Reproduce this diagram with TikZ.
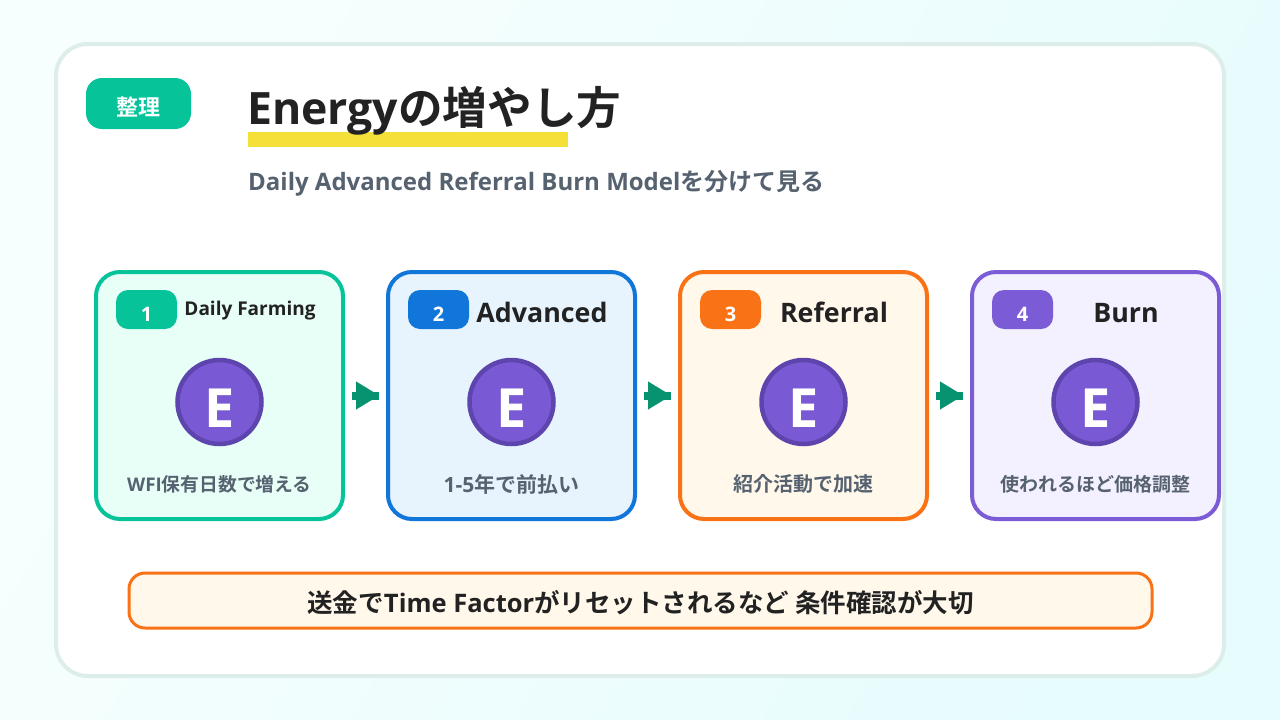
\documentclass[tikz,border=0pt]{standalone}
\usepackage{fontspec}
\setmainfont{Open Sans}
\newfontfamily\jafont{Noto Sans CJK JP}[BoldFont={* Bold}]
\usetikzlibrary{arrows.meta}
\newcommand{\fsize}[1]{\fontsize{#1}{#1}\selectfont\bfseries}
\newcommand{\ja}[1]{{\jafont #1}}
\newcommand{\lowered}[2]{\smash{\raisebox{-#1pt}{#2}}}
\definecolor{inkdark}{HTML}{222222}
\definecolor{inkgray}{HTML}{566270}
\definecolor{flowgreen}{HTML}{079270}
\definecolor{tokenfill}{HTML}{7A5AD4}
\definecolor{tokenedge}{HTML}{5E45AE}
\definecolor{panelline}{HTML}{DDEEEA}
\definecolor{markyellow}{HTML}{F4E038}
\definecolor{pagelight}{HTML}{F6FFFD}
\definecolor{pagedeep}{HTML}{E7FCFD}
\definecolor{mintline}{HTML}{06C39A}
\definecolor{mintfill}{HTML}{E8FFF8}
\definecolor{blueline}{HTML}{1176D9}
\definecolor{bluefill}{HTML}{E8F4FD}
\definecolor{orangeline}{HTML}{F97316}
\definecolor{orangefill}{HTML}{FFF8EB}
\definecolor{violetline}{HTML}{7B5BD6}
\definecolor{violetfill}{HTML}{F3F0FF}
\tikzset{
  stagecard/.style={draw=#1line, fill=#1fill, line width=4pt, rounded corners=24pt,
    minimum width=247pt, minimum height=247pt, inner sep=0pt},
  numbadge/.style={fill=#1line, rounded corners=12pt, minimum width=61pt, minimum height=39pt, inner sep=0pt},
  token/.style={circle, draw=tokenedge, fill=tokenfill, line width=4.5pt, minimum size=84pt, inner sep=0pt,
    text=white, font=\fsize{54}},
  flowshaft/.style={draw=flowgreen, line width=8pt, shorten <=7pt, shorten >=7pt},
  flowhead/.style={-{Triangle[length=23pt,width=28pt]}, draw=flowgreen, fill=flowgreen, line width=0.1pt,
    shorten <=11pt, shorten >=7pt},
}
\begin{document}
\begin{tikzpicture}[x=1pt, y=-1pt]
    % 1. Page background and white panel
    \shade[left color=pagelight, right color=pagedeep, shading angle=60] (0,0) rectangle (1280,720);
    \useasboundingbox (0,0) rectangle (1280,720);
    \node (panel) at (640,360) [draw=panelline, fill=white, line width=4pt, rounded corners=32pt,
        minimum width=1168pt, minimum height=632pt, inner sep=0pt] {};

    % 2. Heading
    \node (tag) at (138.5,103.5) [fill=mintline, rounded corners=16pt, minimum width=105pt, minimum height=51pt,
        inner sep=0pt, text=white, font=\fsize{22}] {\lowered{12}{\ja{整理}}};
    \fill[markyellow] (248,132) rectangle (568,147);
    \node (title) at (247,124) [anchor=base west, inner sep=0pt, text=inkdark, font=\fsize{44.6}] {Energy\ja{の増やし方}};
    \node (subtitle) at (248,183) [anchor=west, inner sep=0pt, text=inkgray, font=\fsize{24}] {Daily Advanced Referral Burn Model\ja{を分けて見る}};

    % 3. The four stages
    \foreach \i/\x/\tone/\head/\hsize/\hbase/\note/\nsize in {
        1/219.5/mint/Daily Farming/19/315.5/WFI\ja{保有日数で増える}/18.8,
        2/511.5/blue/Advanced/26.8/322/1-5\ja{年で前払い}/21,
        3/803.5/orange/Referral/26.8/322/\ja{紹介活動で加速}/20,
        4/1095.5/violet/Burn/26.8/322/\ja{使われるほど価格調整}/19} {
      \node (card\i) at (\x,395.5) [stagecard=\tone] {};
      \node (badge\i) at (\x-73,309.5) [numbadge=\tone, text=white, font=\fsize{20}] {\lowered{11.5}{\i}};
      \node (head\i) at (\x+30.5,\hbase) [anchor=base, text=inkdark, inner sep=0pt, font=\fsize{\hsize}] {\head};
      \node (token\i) at (\x,402) [token] {\lowered{25}{E}};
      \node (note\i) at (\x,484) [text=inkgray, inner sep=0pt, font=\fsize{\nsize}] {\note};
    }

    % 4. Arrows between the stages
    \foreach \a/\b in {1/2,2/3,3/4} {
      \draw[flowshaft] (card\a) -- (card\b);
      \draw[flowhead] (card\a) -- (card\b);
    }

    % 5. Closing note
    \node (remark) at (640.5,600.5) [draw=orangeline, fill=orangefill, line width=3pt, rounded corners=16pt,
        minimum width=1023pt, minimum height=55pt, inner sep=0pt, text=inkdark, font=\fsize{25.5}]
        {\lowered{12}{\ja{送金で}Time Factor\ja{がリセットされるなど 条件確認が大切}}};
\end{tikzpicture}
\end{document}
